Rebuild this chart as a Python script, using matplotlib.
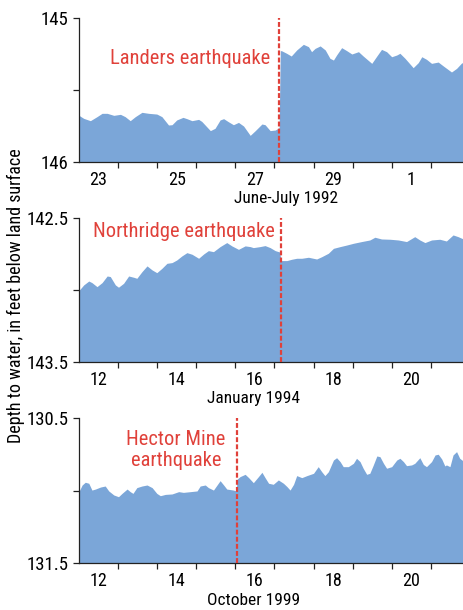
import matplotlib
matplotlib.use('Agg')
import matplotlib.pyplot as plt
from matplotlib.ticker import FixedLocator, NullFormatter

plt.rcParams['font.family'] = ['Roboto Condensed', 'Archivo Narrow', 'DejaVu Sans']

FILL = '#7ba6d8'
RED = '#e0413a'

# --- Landers, June-July 1992 (days since 23 June 00:00, depth in feet) ---
landers_days = [0.01, 0.12, 0.29, 0.46, 0.59, 0.72, 0.89, 1.06, 1.18, 1.31,
                1.44, 1.61, 1.78, 1.99, 2.12, 2.29, 2.38, 2.50, 2.66, 2.76,
                2.89, 3.06, 3.14, 3.36, 3.48, 3.61, 3.70, 3.82, 3.95, 4.08,
                4.21, 4.38, 4.51, 4.68, 4.76, 4.89, 5.02, 5.12, 5.15, 5.18,
                5.31, 5.43, 5.57, 5.74, 5.87, 5.95, 6.04, 6.17, 6.30, 6.42,
                6.51, 6.59, 6.72, 6.85, 6.98, 7.15, 7.27, 7.49, 7.62, 7.74,
                7.87, 8.00, 8.13, 8.21, 8.34, 8.55, 8.68, 8.77, 8.89, 9.02,
                9.19, 9.32, 9.53, 9.66, 9.79, 9.85]
landers_depth = [145.678, 145.697, 145.713, 145.685, 145.662, 145.662, 145.676,
                 145.669, 145.685, 145.713, 145.685, 145.655, 145.662, 145.667,
                 145.685, 145.743, 145.741, 145.708, 145.690, 145.699, 145.713,
                 145.704, 145.718, 145.782, 145.766, 145.708, 145.699, 145.720,
                 145.741, 145.725, 145.750, 145.815, 145.782, 145.736, 145.741,
                 145.782, 145.778, 145.762, 145.227, 145.227, 145.245, 145.264,
                 145.222, 145.183, 145.199, 145.234, 145.211, 145.194, 145.222,
                 145.280, 145.292, 145.257, 145.206, 145.227, 145.250, 145.234,
                 145.264, 145.315, 145.264, 145.218, 145.234, 145.269, 145.257,
                 145.245, 145.280, 145.345, 145.310, 145.269, 145.287, 145.315,
                 145.306, 145.333, 145.375, 145.350, 145.312, 145.310]

# --- Northridge, January 1994 (days since 12 Jan 00:00) ---
northridge_days = [0.01, 0.12, 0.25, 0.33, 0.46, 0.59, 0.72, 0.80, 0.93, 1.01,
                   1.14, 1.27, 1.40, 1.48, 1.61, 1.74, 1.87, 1.99, 2.12, 2.25,
                   2.38, 2.50, 2.63, 2.76, 2.89, 3.06, 3.19, 3.31, 3.44, 3.61,
                   3.78, 3.91, 4.08, 4.25, 4.38, 4.46, 4.63, 4.76, 4.89, 5.02,
                   5.13, 5.17, 5.32, 5.44, 5.57, 5.70, 5.87, 6.08, 6.21, 6.38,
                   6.51, 6.68, 6.85, 7.02, 7.23, 7.44, 7.57, 7.74, 7.96, 8.17,
                   8.38, 8.59, 8.72, 8.85, 9.02, 9.23, 9.40, 9.57, 9.70, 9.85]
northridge_depth = [143.000, 142.965, 142.938, 142.949, 142.977, 142.949, 142.903,
                    142.907, 142.965, 142.981, 142.954, 142.903, 142.912, 142.919,
                    142.873, 142.833, 142.861, 142.880, 142.850, 142.815, 142.810,
                    142.792, 142.764, 142.741, 142.752, 142.780, 142.750, 142.727,
                    142.734, 142.699, 142.671, 142.694, 142.718, 142.694, 142.699,
                    142.706, 142.699, 142.692, 142.706, 142.727, 142.736, 142.796,
                    142.796, 142.787, 142.780, 142.780, 142.773, 142.785, 142.769,
                    142.745, 142.711, 142.699, 142.688, 142.676, 142.664, 142.653,
                    142.634, 142.646, 142.648, 142.653, 142.664, 142.630, 142.653,
                    142.671, 142.653, 142.648, 142.660, 142.618, 142.630, 142.648]

# --- Hector Mine, October 1999 (days since 12 Oct 00:00) ---
hector_days = [0.01, 0.08, 0.16, 0.25, 0.33, 0.42, 0.55, 0.67, 0.76, 0.89,
               1.01, 1.10, 1.23, 1.31, 1.38, 1.48, 1.61, 1.74, 1.87, 1.99,
               2.08, 2.21, 2.38, 2.55, 2.67, 2.85, 3.02, 3.10, 3.23, 3.31,
               3.44, 3.61, 3.70, 3.78, 3.95, 4.02, 4.05, 4.12, 4.25, 4.34,
               4.46, 4.59, 4.68, 4.76, 4.85, 4.97, 5.10, 5.23, 5.32, 5.40,
               5.49, 5.57, 5.70, 5.83, 6.00, 6.12, 6.21, 6.29, 6.38, 6.51,
               6.59, 6.68, 6.76, 6.89, 7.02, 7.10, 7.19, 7.27, 7.36, 7.44,
               7.53, 7.62, 7.70, 7.79, 7.87, 8.00, 8.13, 8.21, 8.30, 8.38,
               8.51, 8.59, 8.72, 8.81, 8.89, 9.02, 9.11, 9.19, 9.28, 9.36,
               9.40, 9.49, 9.57, 9.66, 9.74, 9.85]
hector_depth = [131.001, 130.962, 130.943, 130.950, 130.997, 130.990, 130.976,
                130.969, 131.003, 131.031, 131.043, 131.020, 130.990, 131.008,
                131.020, 130.980, 130.969, 130.962, 130.980, 131.020, 131.036,
                131.027, 131.024, 131.008, 131.013, 131.008, 131.003, 130.969,
                130.962, 130.980, 130.997, 130.932, 130.962, 130.990, 130.997,
                131.003, 130.920, 130.904, 130.888, 130.911, 130.946, 130.904,
                130.874, 130.911, 130.950, 130.957, 130.927, 130.950, 130.973,
                130.997, 130.957, 130.897, 130.911, 130.897, 130.881, 130.835,
                130.870, 130.897, 130.870, 130.789, 130.773, 130.800, 130.835,
                130.835, 130.812, 130.777, 130.800, 130.846, 130.888, 130.881,
                130.823, 130.761, 130.766, 130.812, 130.846, 130.835, 130.789,
                130.777, 130.800, 130.828, 130.823, 130.812, 130.773, 130.820,
                130.835, 130.800, 130.754, 130.749, 130.782, 130.830, 130.823,
                130.835, 130.754, 130.731, 130.777, 130.800]

landers_labels = ['23', '25', '27', '29', '1']
northridge_labels = ['12', '14', '16', '18', '20']
hector_labels = ['12', '14', '16', '18', '20']

# quake times, days since the first midnight on each panel
landers_quake = 5.12
northridge_quake = 5.17
hector_quake = 4.04

panels = [
    dict(days=landers_days, depth=landers_depth, ylim=(146, 145),
         yticks=[145, 145.5, 146], ylabels=['145', '', '146'],
         xlabels=landers_labels, quake=landers_quake,
         title='Landers earthquake', title_xy=(0.496, 0.719), ha='right',
         xname='June-July 1992', xname_xy=(0.616, 0.674),
         rect=[0.1703, 0.7344, 0.8297, 0.2361]),
    dict(days=northridge_days, depth=northridge_depth, ylim=(143.5, 142.5),
         yticks=[142.5, 143.0, 143.5], ylabels=['142.5', '', '143.5'],
         xlabels=northridge_labels, quake=northridge_quake,
         title='Northridge earthquake', title_xy=(0.509, 0.905), ha='right',
         xname='January 1994', xname_xy=(0.547, 0.346),
         rect=[0.1703, 0.4066, 0.8297, 0.2361]),
    dict(days=hector_days, depth=hector_depth, ylim=(131.5, 130.5),
         yticks=[130.5, 131.0, 131.5], ylabels=['130.5', '', '131.5'],
         xlabels=hector_labels, quake=hector_quake,
         title='Hector Mine\nearthquake', title_xy=(0.252, 0.78), ha='center',
         xname='October 1999', xname_xy=(0.547, 0.016),
         rect=[0.1703, 0.0775, 0.8297, 0.2368]),
]

fig = plt.figure(figsize=(4.64, 6.10), dpi=100)

for p in panels:
    ax = fig.add_axes(p['rect'])
    ax.fill_between(p['days'], p['depth'], p['ylim'][0], color=FILL,
                    linewidth=0)
    ax.set_xlim(0, 9.85)
    ax.set_ylim(*p['ylim'])
    ax.axvline(p['quake'], color=RED, linewidth=1.6, linestyle=(0, (2.2, 1.0)),
               zorder=3)
    ax.text(p['title_xy'][0], p['title_xy'][1], p['title'],
            transform=ax.transAxes, color=RED, fontsize=14.8, ha=p['ha'],
            va='center', multialignment='center', linespacing=1.15)

    for side in ('top', 'right'):
        ax.spines[side].set_visible(False)
    for side in ('left', 'bottom'):
        ax.spines[side].set_linewidth(0.9)
        ax.spines[side].set_color('#222222')

    ax.set_yticks(p['yticks'])
    ax.set_yticklabels(p['ylabels'])
    ax.tick_params(axis='y', length=4.5, width=0.9, color='#222222',
                   labelsize=13.5, pad=3)

    # ticks mark midnight, day labels sit at noon
    ax.xaxis.set_major_locator(FixedLocator(range(1, 10)))
    ax.xaxis.set_major_formatter(NullFormatter())
    ax.xaxis.set_minor_locator(FixedLocator([0.5, 2.5, 4.5, 6.5, 8.5]))
    ax.set_xticklabels(p['xlabels'], minor=True)
    ax.tick_params(axis='x', which='major', length=4.5, width=0.9,
                   color='#222222')
    ax.tick_params(axis='x', which='minor', length=0, labelsize=13, pad=6.5)

    fig.text(p['xname_xy'][0], p['xname_xy'][1], p['xname'], ha='center',
             va='center', fontsize=12.5)

fig.text(0.034, 0.516, 'Depth to water, in feet below land surface',
         rotation=90, ha='center', va='center', fontsize=13)

fig.savefig('out.png', dpi=100)
